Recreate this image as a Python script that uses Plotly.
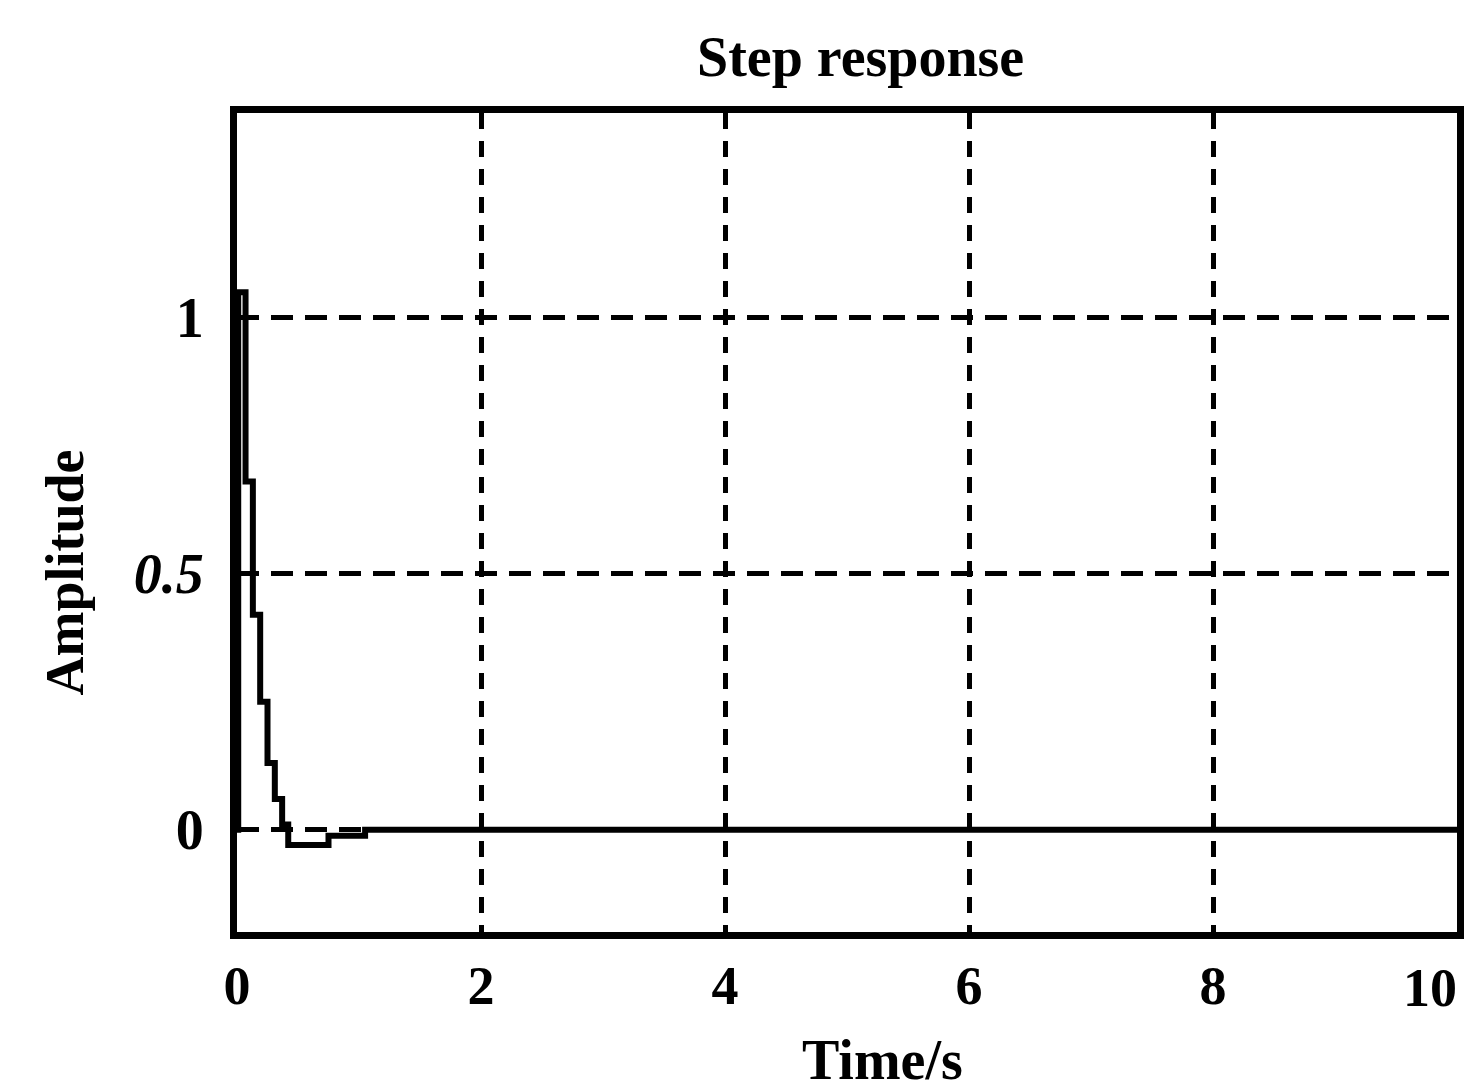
import plotly.graph_objects as go

# Step response (staircase)
time_s = [0, 0.01, 0.07, 0.13, 0.19, 0.25, 0.31, 0.37, 0.42, 0.75, 1.05, 10]
amplitude = [0, 1.05, 0.68, 0.42, 0.25, 0.13, 0.06, 0.01, -0.03, -0.012, 0, 0]

x_ticks = [0, 2, 4, 6, 8]
x_tick_text = ["<b>0</b>", "<b>2</b>", "<b>4</b>", "<b>6</b>", "<b>8</b>"]
x_last_tick = [10]
x_last_tick_text = ["<b>10</b>"]
y_ticks = [0, 0.5, 1]
y_tick_text = ["<b>0</b>", "<b><i>0.5</i></b>", "<b>1</b>"]

font_family = "Liberation Serif, Times New Roman, serif"
title_font = dict(family=font_family, size=56, color="black")

fig = go.Figure()
fig.add_trace(go.Scatter(
    x=time_s, y=amplitude, mode="lines", line_shape="hv",
    line=dict(color="black", width=6), showlegend=False,
))
# empty trace so the overlay axis (last tick label) is drawn
fig.add_trace(go.Scatter(x=[], y=[], xaxis="x2", yaxis="y", showlegend=False, hoverinfo="skip"))

fig.update_layout(
    width=1477, height=1091,
    paper_bgcolor="white", plot_bgcolor="white",
    margin=dict(l=237, r=20, t=113, b=159),
    font=dict(family=font_family, color="black"),
    annotations=[
        dict(text="<b>Step response</b>", xref="paper", yref="paper", x=0.5, y=1,
             xanchor="center", yanchor="middle", xshift=13, yshift=56,
             showarrow=False, font=title_font),
        dict(text="<b>Time/s</b>", xref="paper", yref="paper", x=0.5, y=0,
             xanchor="center", yanchor="middle", xshift=35, yshift=-128,
             showarrow=False, font=title_font),
        dict(text="<b>Amplitude</b>", xref="paper", yref="paper", x=0, y=0.5,
             xanchor="center", yanchor="middle", xshift=-173, yshift=-50,
             textangle=-90, showarrow=False, font=dict(family=font_family, size=54, color="black")),
    ],
    xaxis2=dict(
        overlaying="x", anchor="y", side="bottom", range=[0, 10],
        tickvals=x_last_tick, ticktext=x_last_tick_text, ticks="",
        ticklabelposition="outside left", ticklabelstandoff=19,
        tickfont=dict(family=font_family, size=54, color="black"),
        showgrid=False, showline=False, zeroline=False,
    ),
)
fig.layout.xaxis.update(
    range=[0, 10], tickvals=x_ticks, ticktext=x_tick_text, ticks="",
    tickfont=dict(family=font_family, size=54, color="black"),
    ticklabelstandoff=0,
    showline=True, mirror=True, linecolor="black", linewidth=7,
    showgrid=True, gridcolor="black", gridwidth=5, griddash="16px,12px",
    zeroline=False,
)
fig.layout.yaxis.update(
    range=[-0.2, 1.4], tickvals=y_ticks, ticktext=y_tick_text, ticks="",
    tickfont=dict(family=font_family, size=56, color="black"),
    ticklabelstandoff=15,
    showline=True, mirror=True, linecolor="black", linewidth=7,
    showgrid=True, gridcolor="black", gridwidth=5, griddash="22px,12px",
    zeroline=False,
)

fig.write_html("out.html", config={"displayModeBar": False},
               post_script="document.body.style.margin='0';document.body.style.overflow='hidden';")
